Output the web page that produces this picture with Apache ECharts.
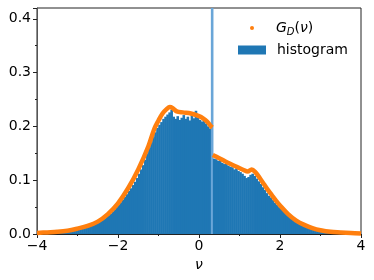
<!DOCTYPE html>
<html>
<head>
<meta charset="utf-8">
<script src="https://cdn.jsdelivr.net/npm/echarts@6/dist/echarts.min.js"></script>
<style>html,body{margin:0;padding:0;background:#fff;}#c{width:374px;height:280px;}</style>
</head>
<body>
<div id="c"></div>
<script>
// Histogram bins
const binStart = -4, binWidth = 0.05;
const histValues = [
  0.001,0.001,0.001,0.002,0.002,0.002,0.002,0.003,0.003,0.003,0.003,0.004,0.004,0.004,0.005,0.005,0.006,0.006,0.007,0.008,
  0.009,0.010,0.011,0.012,0.013,0.014,0.015,0.017,0.018,0.020,0.022,0.024,0.026,0.029,0.032,0.035,0.038,0.042,0.046,0.050,
  0.055,0.059,0.064,0.069,0.074,0.080,0.085,0.091,0.097,0.104,0.112,0.120,0.128,0.138,0.150,0.160,0.170,0.180,0.189,0.197,
  0.203,0.208,0.214,0.218,0.222,0.226,0.231,0.218,0.214,0.219,0.212,0.216,0.221,0.214,0.218,0.211,0.222,0.215,0.229,0.216,
  0.212,0.209,0.214,0.205,0.200,0.196,1.000,0.140,0.139,0.136,0.138,0.132,0.130,0.133,0.127,0.125,0.124,0.120,0.122,0.117,
  0.115,0.112,0.108,0.104,0.106,0.110,0.112,0.108,0.103,0.098,0.093,0.087,0.082,0.076,0.071,0.068,0.063,0.058,0.054,0.050,
  0.048,0.045,0.041,0.038,0.035,0.032,0.029,0.027,0.025,0.022,0.020,0.018,0.016,0.015,0.013,0.012,0.010,0.009,0.008,0.007,
  0.006,0.006,0.005,0.005,0.004,0.004,0.004,0.003,0.003,0.003,0.002,0.002,0.002,0.002,0.002,0.001,0.001,0.001,0.001,0.001
];
const spikeIndex = 86;
// G_D(nu) curve
const gdNu  = [-4.0,-3.75,-3.5,-3.25,-3.0,-2.75,-2.5,-2.25,-2.0,-1.75,-1.5,-1.25,-1.1,-1.0,-0.9,-0.8,-0.72,-0.65,-0.55,-0.4,-0.2,0.0,0.1,0.2,0.3,0.33,0.335,0.34,0.5,0.7,0.9,1.1,1.2,1.3,1.4,1.5,1.6,1.7,1.8,1.9,2.0,2.2,2.4,2.6,2.8,3.0,3.25,3.5,3.75,4.0];
const gdVal = [0.002,0.003,0.004,0.006,0.010,0.015,0.023,0.037,0.057,0.085,0.120,0.163,0.196,0.211,0.224,0.232,0.236,0.234,0.228,0.226,0.224,0.219,0.215,0.209,0.200,0.198,null,0.147,0.141,0.133,0.126,0.119,0.116,0.120,0.114,0.104,0.093,0.082,0.072,0.062,0.053,0.037,0.025,0.017,0.011,0.007,0.004,0.003,0.002,0.001];
// Axis ticks
const xTicks = [-4,-2,0,2,4];
const yTicks = [0.0,0.1,0.2,0.3,0.4];

const FONT = 'DejaVu Sans';
const histData = histValues.map((v, i) => {
  const x = binStart + binWidth * (i + 0.5);
  if (i === spikeIndex) return {value: [x, v], itemStyle: {color: '#6aa6d8'}};
  return [x, v];
});
const gdData = gdNu.map((x, i) => [x, gdVal[i] === null ? '-' : gdVal[i]]);

const chart = echarts.init(document.getElementById('c'), null, {renderer: 'canvas'});
const minus = v => (v < 0 ? '\u2212' : '') + Math.abs(v);
chart.setOption({
  animation: false,
  backgroundColor: '#fff',
  textStyle: {fontFamily: FONT},
  grid: {left: 37, right: 13, top: 8, bottom: 46, show: true, borderColor: '#222', borderWidth: 1, backgroundColor: 'transparent'},
  legend: [
    {
      data: [{name: 'G_D', icon: 'circle'}],
      left: 245, top: 16, itemWidth: 4, itemHeight: 4,
      formatter: () => '{sp| }{i|G}{s|D}{p|(}{i|\u03bd}{p|)}',
      textStyle: {
        rich: {
          sp: {width: 17, fontSize: 14},
          i: {fontFamily: FONT, fontStyle: 'italic', fontSize: 14, color: '#000'},
          s: {fontFamily: FONT, fontStyle: 'italic', fontSize: 10, color: '#000', padding: [8, 0, 0, 0]},
          p: {fontFamily: FONT, fontSize: 14, color: '#000'}
        }
      }
    },
    {
      data: [{name: 'histogram', icon: 'rect'}],
      left: 233, top: 38, itemWidth: 28, itemHeight: 9,
      textStyle: {fontFamily: FONT, fontSize: 14, color: '#000', padding: [0, 0, 0, 6]}
    }
  ],
  xAxis: {
    type: 'value', min: xTicks[0], max: xTicks[xTicks.length - 1], interval: 2,
    name: '\u03bd', nameLocation: 'middle', nameGap: 19,
    nameTextStyle: {fontFamily: FONT, fontStyle: 'italic', fontSize: 14, color: '#000'},
    axisLine: {show: true, onZero: false, lineStyle: {color: '#222', width: 1}},
    axisTick: {show: true, inside: false, length: 4, lineStyle: {color: '#222'}},
    minorTick: {show: true, splitNumber: 2, length: 2, lineStyle: {color: '#222'}},
    axisLabel: {fontFamily: FONT, fontSize: 14, color: '#000', margin: 5, formatter: minus},
    splitLine: {show: false}
  },
  yAxis: {
    type: 'value', min: 0, max: 0.42, interval: 0.1,
    axisLine: {show: true, onZero: false, lineStyle: {color: '#555', width: 1}},
    axisTick: {show: true, inside: false, length: 4, lineStyle: {color: '#222'}},
    minorTick: {show: true, splitNumber: 2, length: 2, lineStyle: {color: '#222'}},
    axisLabel: {fontFamily: FONT, fontSize: 14, color: '#000', margin: 6, showMaxLabel: false,
      formatter: v => yTicks.some(t => Math.abs(t - v) < 1e-9) ? v.toFixed(1) : ''},
    splitLine: {show: false}
  },
  series: [
    {
      name: 'histogram', type: 'bar', data: histData, barWidth: 2.6, barGap: '-100%',
      itemStyle: {color: '#1f77b4'}, z: 2, clip: true
    },
    {
      name: 'G_D', type: 'line', data: gdData, showSymbol: false, symbol: 'circle', smooth: 0.35,
      connectNulls: false, lineStyle: {color: '#ff7f0e', width: 4.5}, itemStyle: {color: '#ff7f0e'}, z: 3
    }
  ]
});
</script>
</body>
</html>
